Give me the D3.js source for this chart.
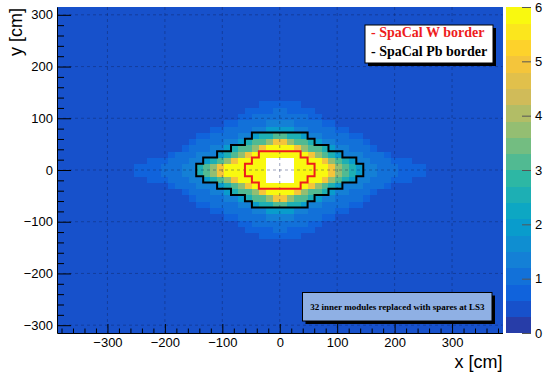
<!DOCTYPE html>
<html>
<head>
<meta charset="utf-8">
<script src="https://cdn.jsdelivr.net/npm/d3@7"></script>
<style>
  body { margin: 0; background: #fff; }
  svg { display: block; }
</style>
</head>
<body>
<svg id="chart" width="543" height="373"></svg>
<script>
// ECAL module grid: 64 x 52 modules, 12.12 cm each
const moduleSize = 12.12;
const nModulesX = 64;
const nModulesY = 52;

// Occupancy around the beam pipe, one array per module row, top row first.
// Rows cover module rows 10 .. -11, columns cover module columns -21 .. 20
// (module column k spans k*12.12 .. (k+1)*12.12 cm). 0 = no module (beam hole).
const mapTopRow = 10;
const mapFirstCol = -21;
const mapRows = [
  [0.5,0.5,0.5,0.5,0.5,0.5,0.5,0.5,0.5,0.5,0.5,0.5,0.5,0.5,0.5,0.5,0.5,0.5,0.8,0.8,0.8, 0.8,0.8,0.8,0.5,0.5,0.5,0.5,0.5,0.5,0.5,0.5,0.5,0.5,0.5,0.5,0.5,0.5,0.5,0.5,0.5,0.5],
  [0.5,0.5,0.5,0.5,0.5,0.5,0.5,0.5,0.5,0.5,0.5,0.5,0.5,0.5,0.5,0.5,0.8,0.8,0.8,0.8,1.0, 1.0,0.8,0.8,0.8,0.8,0.5,0.5,0.5,0.5,0.5,0.5,0.5,0.5,0.5,0.5,0.5,0.5,0.5,0.5,0.5,0.5],
  [0.5,0.5,0.5,0.5,0.5,0.5,0.5,0.5,0.5,0.5,0.5,0.5,0.5,0.5,0.5,0.8,0.8,1.0,1.0,1.0,1.0, 1.0,1.0,1.0,1.0,0.8,0.8,0.5,0.5,0.5,0.5,0.5,0.5,0.5,0.5,0.5,0.5,0.5,0.5,0.5,0.5,0.5],
  [0.5,0.5,0.5,0.5,0.5,0.5,0.5,0.5,0.5,0.5,0.5,0.5,0.5,0.8,0.8,1.0,1.0,1.0,1.0,1.3,1.3, 1.3,1.3,1.0,1.0,1.0,1.0,0.8,0.8,0.5,0.5,0.5,0.5,0.5,0.5,0.5,0.5,0.5,0.5,0.5,0.5,0.5],
  [0.5,0.5,0.5,0.5,0.5,0.5,0.5,0.5,0.5,0.5,0.5,0.8,0.8,1.0,1.0,1.0,1.0,1.3,1.3,1.9,1.9, 1.9,1.9,1.3,1.3,1.0,1.0,1.0,1.0,0.8,0.8,0.5,0.5,0.5,0.5,0.5,0.5,0.5,0.5,0.5,0.5,0.5],
  [0.5,0.5,0.5,0.5,0.5,0.5,0.5,0.5,0.5,0.8,0.8,1.0,1.0,1.0,1.0,1.3,1.3,1.9,2.5,2.5,3.1, 3.1,2.5,2.5,1.9,1.3,1.3,1.0,1.0,1.0,1.0,0.8,0.8,0.5,0.5,0.5,0.5,0.5,0.5,0.5,0.5,0.5],
  [0.5,0.5,0.5,0.5,0.5,0.5,0.5,0.5,0.8,1.0,1.0,1.0,1.0,1.3,1.3,1.9,2.5,3.1,3.1,3.8,4.9, 4.9,3.8,3.1,3.1,2.5,1.9,1.3,1.3,1.0,1.0,1.0,1.0,0.8,0.5,0.5,0.5,0.5,0.5,0.5,0.5,0.5],
  [0.5,0.5,0.5,0.5,0.5,0.5,0.5,0.8,1.0,1.0,1.0,1.3,1.3,1.9,2.5,3.1,3.1,3.8,4.9,5.8,5.8, 5.8,5.8,4.9,3.8,3.1,3.1,2.5,1.9,1.3,1.3,1.0,1.0,1.0,0.8,0.5,0.5,0.5,0.5,0.5,0.5,0.5],
  [0.5,0.5,0.5,0.5,0.5,0.8,1.0,1.0,1.0,1.3,1.3,1.3,1.9,2.5,3.1,3.8,4.9,5.8,5.8,5.8,5.8, 5.8,5.8,5.8,5.8,4.9,3.8,3.1,2.5,1.9,1.3,1.3,1.3,1.0,1.0,1.0,0.8,0.5,0.5,0.5,0.5,0.5],
  [0.5,0.5,0.8,0.8,0.8,1.0,1.0,1.0,1.3,1.3,1.9,2.5,3.1,3.8,4.9,5.8,5.8,5.8,5.8,0,0, 0,0,5.8,5.8,5.8,5.8,4.9,3.8,3.1,2.5,1.9,1.3,1.3,1.0,1.0,1.0,0.8,0.8,0.8,0.5,0.5],
  [0.8,0.8,0.8,0.8,1.0,1.0,1.0,1.3,1.3,2.5,3.1,3.8,4.9,5.8,5.8,5.8,5.8,5.8,5.8,0,0, 0,0,5.8,5.8,5.8,5.8,5.8,4.9,3.8,3.1,2.5,1.9,1.3,1.3,1.0,1.0,1.0,0.8,0.8,0.8,0.8],
  [0.8,0.8,0.8,0.8,1.0,1.0,1.0,1.3,1.3,2.5,3.1,3.8,4.9,5.8,5.8,5.8,5.8,5.8,5.8,0,0, 0,0,5.8,5.8,5.8,5.8,5.8,4.9,3.8,3.1,2.5,1.9,1.3,1.3,1.0,1.0,1.0,0.8,0.8,0.8,0.8],
  [0.5,0.5,0.8,0.8,0.8,1.0,1.0,1.0,1.3,1.3,1.9,2.5,3.1,3.8,4.9,5.8,5.8,5.8,5.8,0,0, 0,0,5.8,5.8,5.8,5.8,4.9,3.8,3.1,2.5,1.9,1.3,1.3,1.0,1.0,1.0,0.8,0.8,0.8,0.5,0.5],
  [0.5,0.5,0.5,0.5,0.5,0.8,1.0,1.0,1.0,1.3,1.3,1.3,1.9,2.5,3.1,3.8,4.9,5.8,5.8,5.8,5.8, 5.8,5.8,5.8,5.8,4.9,3.8,3.1,2.5,1.9,1.3,1.3,1.3,1.0,1.0,1.0,0.8,0.5,0.5,0.5,0.5,0.5],
  [0.5,0.5,0.5,0.5,0.5,0.5,0.5,0.8,1.0,1.0,1.0,1.3,1.3,1.9,2.5,3.1,3.1,3.8,4.9,5.8,5.8, 5.8,5.8,4.9,3.8,3.1,3.1,2.5,1.9,1.3,1.3,1.0,1.0,1.0,0.8,0.5,0.5,0.5,0.5,0.5,0.5,0.5],
  [0.5,0.5,0.5,0.5,0.5,0.5,0.5,0.5,0.8,1.0,1.0,1.0,1.0,1.3,1.3,1.9,2.5,3.1,3.1,3.8,4.9, 4.9,3.8,3.1,3.1,2.5,1.9,1.3,1.3,1.0,1.0,1.0,1.0,0.8,0.5,0.5,0.5,0.5,0.5,0.5,0.5,0.5],
  [0.5,0.5,0.5,0.5,0.5,0.5,0.5,0.5,0.5,0.8,0.8,1.0,1.0,1.0,1.0,1.3,1.3,1.9,2.5,2.5,3.1, 3.1,2.5,2.5,1.9,1.3,1.3,1.0,1.0,1.0,1.0,0.8,0.8,0.5,0.5,0.5,0.5,0.5,0.5,0.5,0.5,0.5],
  [0.5,0.5,0.5,0.5,0.5,0.5,0.5,0.5,0.5,0.5,0.5,0.8,0.8,1.0,1.0,1.0,1.0,1.3,1.3,1.9,1.9, 1.9,1.9,1.3,1.3,1.0,1.0,1.0,1.0,0.8,0.8,0.5,0.5,0.5,0.5,0.5,0.5,0.5,0.5,0.5,0.5,0.5],
  [0.5,0.5,0.5,0.5,0.5,0.5,0.5,0.5,0.5,0.5,0.5,0.5,0.5,0.8,0.8,1.0,1.0,1.0,1.0,1.3,1.3, 1.3,1.3,1.0,1.0,1.0,1.0,0.8,0.8,0.5,0.5,0.5,0.5,0.5,0.5,0.5,0.5,0.5,0.5,0.5,0.5,0.5],
  [0.5,0.5,0.5,0.5,0.5,0.5,0.5,0.5,0.5,0.5,0.5,0.5,0.5,0.5,0.5,0.8,0.8,1.0,1.0,1.0,1.0, 1.0,1.0,1.0,1.0,0.8,0.8,0.5,0.5,0.5,0.5,0.5,0.5,0.5,0.5,0.5,0.5,0.5,0.5,0.5,0.5,0.5],
  [0.5,0.5,0.5,0.5,0.5,0.5,0.5,0.5,0.5,0.5,0.5,0.5,0.5,0.5,0.5,0.5,0.8,0.8,0.8,0.8,1.0, 1.0,0.8,0.8,0.8,0.8,0.5,0.5,0.5,0.5,0.5,0.5,0.5,0.5,0.5,0.5,0.5,0.5,0.5,0.5,0.5,0.5],
  [0.5,0.5,0.5,0.5,0.5,0.5,0.5,0.5,0.5,0.5,0.5,0.5,0.5,0.5,0.5,0.5,0.5,0.5,0.8,0.8,0.8, 0.8,0.8,0.8,0.5,0.5,0.5,0.5,0.5,0.5,0.5,0.5,0.5,0.5,0.5,0.5,0.5,0.5,0.5,0.5,0.5,0.5]
];
// level of every module outside the rows above
const outerLevel = 0.5;

// colour axis
const zRange = [0, 6];
const nContours = 20;
const zTicks = [0, 1, 2, 3, 4, 5, 6];

// axis ticks (cm)
const xTicks = [-300, -200, -100, 0, 100, 200, 300];
const yTicks = [-300, -200, -100, 0, 100, 200, 300];
const minorStep = 20;

// detector region outlines, corners in module units
const wBorder = [[-3,3],[3,3],[3,2],[4,2],[4,1],[5,1],[5,-1],[4,-1],[4,-2],[3,-2],[3,-3],[-3,-3],
  [-3,-2],[-4,-2],[-4,-1],[-5,-1],[-5,1],[-4,1],[-4,2],[-3,2]];
const pbBorder = [[-4,6],[4,6],[4,5],[5,5],[5,4],[7,4],[7,3],[9,3],[9,2],[11,2],[11,1],[12,1],
  [12,-1],[11,-1],[11,-2],[9,-2],[9,-3],[7,-3],[7,-4],[5,-4],[5,-5],[4,-5],[4,-6],[-4,-6],
  [-4,-5],[-5,-5],[-5,-4],[-7,-4],[-7,-3],[-9,-3],[-9,-2],[-11,-2],[-11,-1],[-12,-1],
  [-12,1],[-11,1],[-11,2],[-9,2],[-9,3],[-7,3],[-7,4],[-5,4],[-5,5],[-4,5]];

const legendLabels = ["- SpaCal W border", "- SpaCal Pb border"];
const legendColors = ["#ee1c1c", "#000000"];
const noteText = "32 inner modules replaced with spares at LS3";
const xTitle = "x [cm]";
const yTitle = "y [cm]";

// ---- ROOT "bird" palette ----
const birdStops = [0.0, 0.125, 0.25, 0.375, 0.5, 0.625, 0.75, 0.875, 1.0];
const birdR = [0.2082, 0.0592, 0.0780, 0.0232, 0.1802, 0.5301, 0.8186, 0.9956, 0.9764];
const birdG = [0.1664, 0.3599, 0.5041, 0.6419, 0.7178, 0.7492, 0.7328, 0.7862, 0.9832];
const birdB = [0.5293, 0.8684, 0.8385, 0.7914, 0.6425, 0.4662, 0.3499, 0.1968, 0.0539];
const palR = d3.scaleLinear().domain(birdStops).range(birdR).clamp(true);
const palG = d3.scaleLinear().domain(birdStops).range(birdG).clamp(true);
const palB = d3.scaleLinear().domain(birdStops).range(birdB).clamp(true);
function bandColor(band) {
  const ci = Math.floor((band + 0.99) * 255 / nContours);
  const f = ci / 255;
  return d3.rgb(palR(f) * 255, palG(f) * 255, palB(f) * 255).formatHex();
}
function levelBand(z) {
  return Math.floor(0.01 + (z - zRange[0]) * nContours / (zRange[1] - zRange[0]));
}

// ---- layout ----
const frame = { left: 57, right: 502.5, top: 7, bottom: 333 };
const bar = { left: 505.5, right: 531 };
const halfX = nModulesX / 2 * moduleSize;
const halfY = nModulesY / 2 * moduleSize;

const svg = d3.select("#chart");
const x = d3.scaleLinear().domain([-halfX, halfX]).range([frame.left, frame.right]);
const y = d3.scaleLinear().domain([-halfY, halfY]).range([frame.bottom, frame.top]);
const z = d3.scaleLinear().domain(zRange).range([frame.bottom, frame.top]);

// ---- histogram cells ----
const cells = [];
for (let j = 0; j < nModulesY; j++) {
  for (let i = 0; i < nModulesX; i++) {
    const k = i - nModulesX / 2;
    const m = j - nModulesY / 2;
    const r = mapTopRow - m;
    const c = k - mapFirstCol;
    let v = outerLevel;
    if (r >= 0 && r < mapRows.length && c >= 0 && c < mapRows[r].length) v = mapRows[r][c];
    cells.push({ k, m, v });
  }
}
svg.append("g")
  .attr("shape-rendering", "crispEdges")
  .selectAll("rect")
  .data(cells.filter(d => d.v > zRange[0] && d.v <= zRange[1]))
  .join("rect")
  .attr("x", d => x(d.k * moduleSize))
  .attr("y", d => y((d.m + 1) * moduleSize))
  .attr("width", d => x((d.k + 1) * moduleSize) - x(d.k * moduleSize) + 0.4)
  .attr("height", d => y(d.m * moduleSize) - y((d.m + 1) * moduleSize) + 0.4)
  .attr("fill", d => bandColor(levelBand(d.v)));

// ---- grid ----
const grid = svg.append("g")
  .attr("stroke", "#10205a")
  .attr("stroke-opacity", 0.5)
  .attr("stroke-width", 0.8)
  .attr("stroke-dasharray", "3,3");
grid.selectAll("line.gx").data(xTicks).join("line")
  .attr("x1", d => x(d)).attr("x2", d => x(d))
  .attr("y1", frame.top).attr("y2", frame.bottom);
grid.selectAll("line.gy").data(yTicks).join("line")
  .attr("x1", frame.left).attr("x2", frame.right)
  .attr("y1", d => y(d)).attr("y2", d => y(d));

// ---- borders ----
const outline = d3.line()
  .x(p => x(p[0] * moduleSize))
  .y(p => y(p[1] * moduleSize))
  .curve(d3.curveLinearClosed);
svg.append("path").attr("d", outline(pbBorder))
  .attr("fill", "none").attr("stroke", legendColors[1]).attr("stroke-width", 2);
svg.append("path").attr("d", outline(wBorder))
  .attr("fill", "none").attr("stroke", legendColors[0]).attr("stroke-width", 2);

// ---- axes ----
const fontSans = "'Liberation Sans', Arial, Helvetica, sans-serif";
const fontSerif = "'Liberation Serif', 'Times New Roman', serif";

const minorX = d3.range(-380, 381, minorStep).filter(v => !xTicks.includes(v));
const minorY = d3.range(-300, 301, minorStep).filter(v => !yTicks.includes(v));

svg.append("g").attr("transform", `translate(0,${frame.bottom})`)
  .call(d3.axisBottom(x).tickValues(xTicks).tickSize(-9).tickSizeOuter(0).tickPadding(5));
svg.append("g").attr("transform", `translate(0,${frame.bottom})`)
  .call(d3.axisBottom(x).tickValues(minorX).tickSize(-4.5).tickSizeOuter(0).tickFormat(""))
  .select(".domain").remove();
svg.append("g").attr("transform", `translate(${frame.left},0)`)
  .call(d3.axisLeft(y).tickValues(yTicks).tickSize(-14).tickSizeOuter(0).tickPadding(4));
svg.append("g").attr("transform", `translate(${frame.left},0)`)
  .call(d3.axisLeft(y).tickValues(minorY).tickSize(-7).tickSizeOuter(0).tickFormat(""))
  .select(".domain").remove();

svg.selectAll(".tick text")
  .attr("font-family", fontSans).attr("font-size", 13).attr("fill", "#000");
svg.selectAll(".tick line, .domain").attr("stroke", "#000").attr("stroke-width", 1);

svg.append("text")
  .attr("x", frame.right).attr("y", 368)
  .attr("text-anchor", "end")
  .attr("font-family", fontSans).attr("font-size", 18)
  .text(xTitle);
svg.append("text")
  .attr("transform", `translate(21.5,8) rotate(-90)`)
  .attr("text-anchor", "end")
  .attr("font-family", fontSans).attr("font-size", 18)
  .text(yTitle);

// ---- colour bar ----
const bands = d3.range(nContours);
const bandStep = (zRange[1] - zRange[0]) / nContours;
svg.append("g").attr("shape-rendering", "crispEdges")
  .selectAll("rect").data(bands).join("rect")
  .attr("x", bar.left)
  .attr("width", bar.right - bar.left)
  .attr("y", b => z(zRange[0] + (b + 1) * bandStep))
  .attr("height", b => z(zRange[0] + b * bandStep) - z(zRange[0] + (b + 1) * bandStep) + 0.4)
  .attr("fill", b => bandColor(b));
const gz = svg.append("g").attr("transform", `translate(${bar.right},0)`)
  .call(d3.axisRight(z).tickValues(zTicks).tickSize(-9).tickSizeOuter(0).tickPadding(4).tickFormat(d3.format("d")));
gz.select(".domain").remove();
gz.selectAll(".tick line").attr("stroke", "#555").attr("stroke-width", 1);
gz.selectAll(".tick text").attr("font-family", fontSans).attr("font-size", 13).attr("fill", "#000");

// ---- text boxes with drop shadow ----
function pave(x0, y0, x1, y1, fill) {
  const g = svg.append("g");
  g.append("rect").attr("x", x0 + 3).attr("y", y0 + 3)
    .attr("width", x1 - x0).attr("height", y1 - y0).attr("fill", "#000");
  g.append("rect").attr("x", x0).attr("y", y0)
    .attr("width", x1 - x0).attr("height", y1 - y0)
    .attr("fill", fill).attr("stroke", "#000").attr("stroke-width", 1);
  return g;
}
const leg = pave(365, 25, 493, 63, "#ffffff");
leg.selectAll("text").data(legendLabels).join("text")
  .attr("x", 371)
  .attr("y", (d, i) => 36.5 + i * 19.5)
  .attr("font-family", fontSerif).attr("font-weight", "bold").attr("font-size", 14)
  .attr("fill", (d, i) => legendColors[i])
  .text(d => d);

const note = pave(302.5, 292.5, 492, 321, "#8fb0e4");
note.append("text")
  .attr("x", 397.5).attr("y", 310)
  .attr("text-anchor", "middle")
  .attr("font-family", fontSerif).attr("font-weight", "bold").attr("font-size", 9)
  .attr("fill", "#000")
  .text(noteText);
</script>
</body>
</html>
